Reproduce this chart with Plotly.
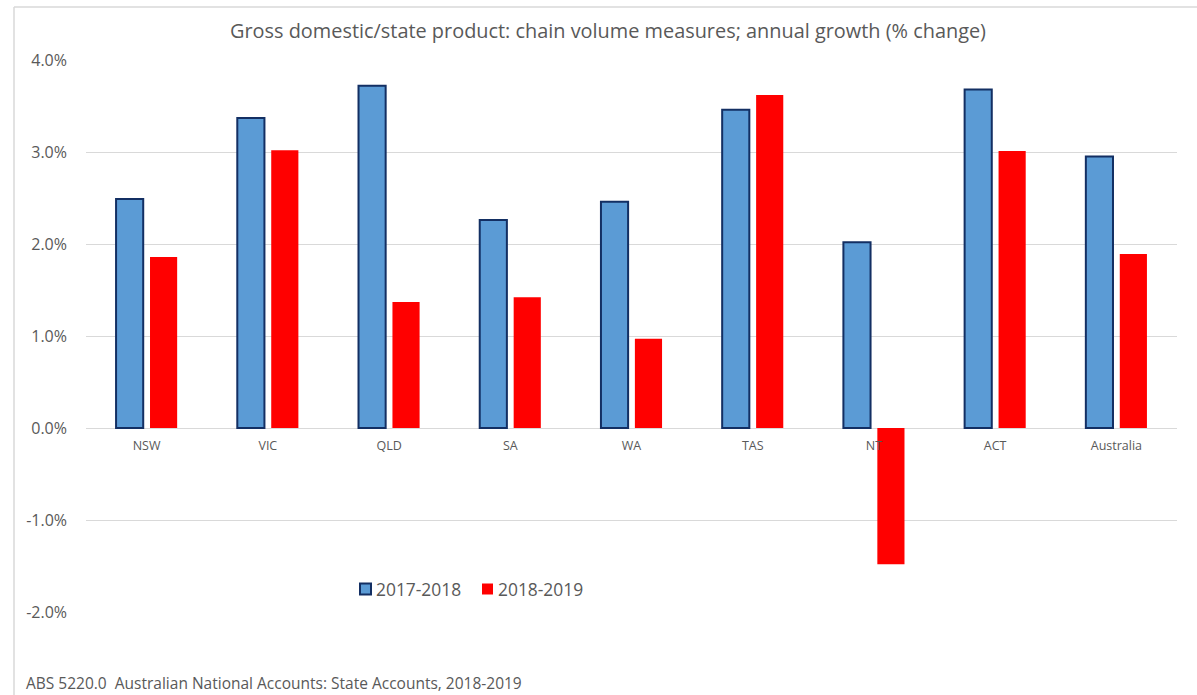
import plotly.graph_objects as go

# Annual growth in GSP/GDP, chain volume measures (% change)
regions = ["NSW", "VIC", "QLD", "SA", "WA", "TAS", "NT", "ACT", "Australia"]
growth_2017_18 = [2.49, 3.37, 3.72, 2.26, 2.46, 3.46, 2.02, 3.68, 2.95]
growth_2018_19 = [1.86, 3.02, 1.37, 1.42, 0.97, 3.62, -1.48, 3.01, 1.89]
series_names = ["2017-2018", "2018-2019"]
y_ticks = [-2.0, -1.0, 0.0, 1.0, 2.0, 3.0, 4.0]

FONT = "Open Sans"
TEXT = "#595959"
GRID = "#d9d9d9"
BLUE, NAVY, RED = "#5b9bd5", "#132f63", "#ff0000"

fig = go.Figure()
fig.add_trace(go.Bar(
    name=series_names[0], x=regions, y=growth_2017_18,
    marker=dict(color=BLUE, line=dict(color=NAVY, width=2)),
))
fig.add_trace(go.Bar(
    name=series_names[1], x=regions, y=growth_2018_19,
    marker=dict(color=RED, line=dict(width=0)),
))

W, H = 1197, 695
L, R, T, B = 86, 20, 60, 83
pw, ph = W - L - R, H - T - B


def px_x(x):
    return (x - L) / pw


def px_y(y):
    return (H - B - y) / ph


# legend drawn as swatches + labels beneath the plot
legend_items = [
    dict(name=series_names[0], x=360, fill=BLUE, edge=NAVY, lw=2),
    dict(name=series_names[1], x=482, fill=RED, edge=RED, lw=0),
]
leg_y = 589
shapes = [
    # chart frame (left and top edges)
    dict(type="line", xref="paper", yref="paper", x0=px_x(14), x1=px_x(14),
         y0=px_y(7), y1=px_y(H + 5), line=dict(color=GRID, width=1.5)),
    dict(type="line", xref="paper", yref="paper", x0=px_x(14), x1=px_x(W + 5),
         y0=px_y(7), y1=px_y(7), line=dict(color=GRID, width=1.5)),
]
annotations = [
    dict(text="ABS 5220.0  Australian National Accounts: State Accounts, 2018-2019",
         xref="paper", yref="paper", x=px_x(24), y=px_y(683),
         xanchor="left", yanchor="middle", showarrow=False,
         font=dict(size=15.5, color=TEXT, family=FONT)),
]
for it in legend_items:
    shapes.append(dict(
        type="rect", xref="paper", yref="paper",
        x0=px_x(it["x"]), x1=px_x(it["x"] + 11),
        y0=px_y(leg_y + 5.5), y1=px_y(leg_y - 5.5),
        fillcolor=it["fill"], line=dict(color=it["edge"], width=it["lw"]),
    ))
    annotations.append(dict(
        text=it["name"], xref="paper", yref="paper",
        x=px_x(it["x"] + 14), y=px_y(leg_y), xanchor="left", yanchor="middle",
        showarrow=False, font=dict(size=17.4, color=TEXT, family=FONT),
    ))

fig.update_layout(
    width=W, height=H,
    margin=dict(l=L, r=R, t=T, b=B, pad=0),
    paper_bgcolor="white", plot_bgcolor="white",
    barmode="group", bargap=0.44, bargroupgap=0.2,
    font=dict(family=FONT, color=TEXT),
    title=dict(
        text="Gross domestic/state product: chain volume measures; annual growth (% change)",
        x=(230 + 986) / 2 / W, xref="container", xanchor="center",
        y=1 - 31 / H, yanchor="middle",
        font=dict(size=19.9, color=TEXT, family=FONT),
    ),
    showlegend=False,
    xaxis=dict(
        type="category", anchor="free", position=2 / 6,
        showline=False, showgrid=False, ticks="", ticklabelstandoff=8,
        tickfont=dict(size=12.5, color=TEXT, family=FONT),
    ),
    yaxis=dict(
        range=[-2.0, 4.0], tickvals=y_ticks,
        ticktext=[f"{v:.1f}%" for v in y_ticks],
        showgrid=True, gridcolor=GRID, gridwidth=1,
        zeroline=True, zerolinecolor=GRID, zerolinewidth=1,
        showline=False, ticks="", ticklabelstandoff=18,
        tickfont=dict(size=16, color=TEXT, family=FONT),
    ),
    shapes=shapes,
    annotations=annotations,
)

fig.write_html("out.html")
